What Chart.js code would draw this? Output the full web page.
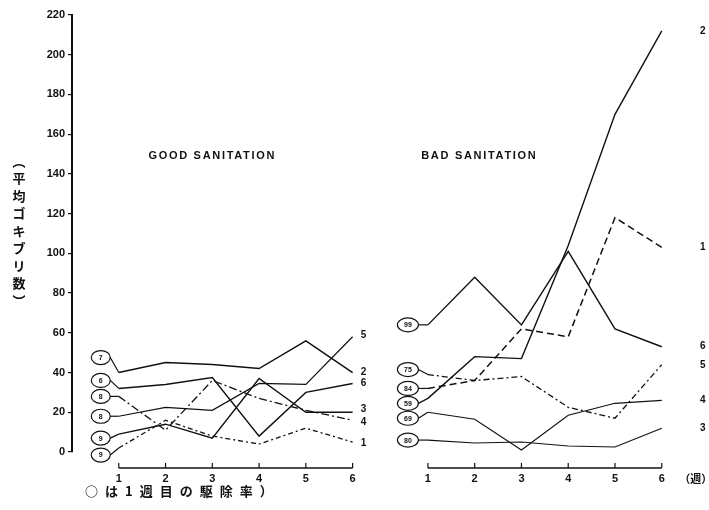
<!DOCTYPE html>
<html lang="ja">
<head>
<meta charset="utf-8">
<title>平均ゴキブリ数</title>
<script src="https://cdn.jsdelivr.net/npm/chart.js"></script>
<style>
  html, body { margin: 0; padding: 0; background: #fff; }
  #wrap { position: relative; width: 709px; height: 510px; }
</style>
</head>
<body>
<div id="wrap"><canvas id="roachChart" width="709" height="510"></canvas></div>

<script>
// weeks after treatment (x axis of each panel)
const weeks = [1, 2, 3, 4, 5, 6];
const weekLabels = ['1', '2', '3', '4', '5', '6'];

// GOOD SANITATION - mean number of cockroaches, line names 1..6
const good1 = [2, 16, 8, 4, 12, 5];
const good2 = [40, 45, 44, 42, 56, 40];
const good3 = [9, 14, 7, 37, 20, 20];
const good4 = [28, 11, 36, 27, 21, 16];
const good5 = [18, 22.5, 21, 34.5, 34, 58];
const good6 = [32, 34, 37.5, 8, 30, 34.5];
// circled numbers = kill rate in week 1
const goodTags = ['9', '7', '9', '8', '8', '6'];

// BAD SANITATION
const bad1 = [32, 36, 62, 58, 118, 103];
const bad2 = [27, 48, 47, 104, 170, 212];
const bad3 = [6, 4.5, 5, 3, 2.5, 12];
const bad4 = [20, 16.5, 1, 18.5, 24.5, 26];
const bad5 = [39, 36, 38, 22.5, 17, 44];
const bad6 = [64, 88, 64, 101, 62, 53];
const badTags = ['84', '59', '80', '69', '75', '99'];

const lineNames = ['1', '2', '3', '4', '5', '6'];

// ---- layout / style (not data) ----
const RIGHT_SHIFT = 6.61;            // where the second panel starts, in weeks
const INK = '#111';
const panels = [
  { title: 'GOOD SANITATION', shift: 0, series: [good1, good2, good3, good4, good5, good6], tags: goodTags,
    titleAt: [3.0, 149], tagDx: -18, tagRx: 9.5, endDx: 11,
    tagNudge: [7, -15, 4, 0, 0, -8],
    endNudge: [1, 0, -3, 2, -2, 0],
    dash: [[5, 3, 2, 3], [], [], [8, 3, 2, 3], [], []],
    width: [1.3, 1.5, 1.4, 1.3, 1.2, 1.4] },
  { title: 'BAD SANITATION', shift: RIGHT_SHIFT, series: [bad1, bad2, bad3, bad4, bad5, bad6], tags: badTags,
    titleAt: [2.1, 149], tagDx: -20, tagRx: 10.5, endDx: 41,
    tagNudge: [0, 5, 0, 6, -5, 0],
    endNudge: [0, 0, 0, 0, 1, 0],
    dash: [[7, 4], [], [], [], [6, 3, 2, 3], []],
    width: [1.5, 1.4, 1.1, 1.1, 1.3, 1.4] }
];

const datasets = [];
panels.forEach((p, pi) => {
  p.series.forEach((vals, i) => {
    datasets.push({
      label: p.title + ' ' + lineNames[i],
      data: vals.map((v, k) => ({ x: weeks[k] + p.shift, y: v })),
      borderColor: INK,
      borderWidth: p.width[i],
      borderDash: p.dash[i],
      pointRadius: 0,
      tension: 0,
      fill: false,
      panel: pi, idx: i
    });
  });
});

const boldFont = (size) => 'bold ' + size + 'px "Liberation Sans", Arial, sans-serif';

const decor = {
  id: 'decor',
  afterDraw(chart) {
    const ctx = chart.ctx;
    const xs = chart.scales.x, ys = chart.scales.y;
    ctx.save();
    ctx.strokeStyle = INK;
    ctx.fillStyle = INK;

    panels.forEach((p) => {
      // separate x axis under each panel
      const x0 = xs.getPixelForValue(weeks[0] + p.shift);
      const x1 = xs.getPixelForValue(weeks[weeks.length - 1] + p.shift);
      const ay = ys.bottom + 16;
      ctx.lineWidth = 1.6;
      ctx.beginPath(); ctx.moveTo(x0, ay); ctx.lineTo(x1, ay); ctx.stroke();
      ctx.font = boldFont(11);
      ctx.textAlign = 'center'; ctx.textBaseline = 'middle';
      weeks.forEach((w, k) => {
        const px = xs.getPixelForValue(w + p.shift);
        ctx.lineWidth = 1.2;
        ctx.beginPath(); ctx.moveTo(px, ay); ctx.lineTo(px, ay - 5); ctx.stroke();
        ctx.fillText(weekLabels[k], px, ay + 11);
      });

      // panel title
      ctx.font = boldFont(11);
      ctx.letterSpacing = '1.7px';
      ctx.fillText(p.title, xs.getPixelForValue(p.titleAt[0] + p.shift), ys.getPixelForValue(p.titleAt[1]));
      ctx.letterSpacing = '0px';
    });

    // circled tags at the start, line names at the end
    chart.data.datasets.forEach((ds, di) => {
      const p = panels[ds.panel];
      const pts = chart.getDatasetMeta(di).data;
      const first = pts[0], last = pts[pts.length - 1];
      const cx = first.x + p.tagDx, cy = first.y + p.tagNudge[ds.idx];
      ctx.lineWidth = 1.2;
      ctx.beginPath(); ctx.ellipse(cx, cy, p.tagRx, 7, 0, 0, Math.PI * 2); ctx.stroke();
      ctx.beginPath(); ctx.moveTo(cx + p.tagRx, cy); ctx.lineTo(first.x, first.y); ctx.stroke();
      ctx.font = boldFont(7);
      ctx.textAlign = 'center'; ctx.textBaseline = 'middle';
      ctx.fillText(p.tags[ds.idx], cx, cy + 0.5);

      ctx.font = boldFont(10);
      ctx.fillText(lineNames[ds.idx], last.x + p.endDx, last.y + p.endNudge[ds.idx]);
    });

    // week unit
    ctx.font = 'bold 11px "Noto Sans CJK JP", sans-serif';
    ctx.textAlign = 'center';
    ctx.fillText('（週）', xs.getPixelForValue(weeks[5] + RIGHT_SHIFT) + 34, ys.bottom + 27);

    // vertical y title
    const yTitle = ['︵', '平', '均', 'ゴ', 'キ', 'ブ', 'リ', '数', '︶'];
    ctx.font = 'bold 13px "Noto Sans CJK JP", sans-serif';
    yTitle.forEach((ch, k) => ctx.fillText(ch, 19, 161 + k * 17.5));

    // footnote
    ctx.font = 'bold 13px "Noto Sans CJK JP", sans-serif';
    ctx.textAlign = 'left';
    ctx.letterSpacing = '7px';
    ctx.fillText('○は1週目の駆除率）', 85, 491);
    ctx.restore();
  }
};

new Chart(document.getElementById('roachChart'), {
  type: 'line',
  data: { datasets },
  options: {
    responsive: false,
    animation: false,
    devicePixelRatio: 1,
    layout: { padding: { top: 15, right: 29, bottom: 58, left: 0 } },
    plugins: { legend: { display: false }, tooltip: { enabled: false } },
    scales: {
      x: { type: 'linear', display: false, min: 0, max: 13 },
      y: {
        min: 0, max: 220,
        afterFit: (s) => { s.width = 72; },
        ticks: { stepSize: 20, color: INK, padding: 3, font: { family: '"Liberation Sans", Arial, sans-serif', size: 11, weight: 'bold' } },
        grid: { drawOnChartArea: false, tickLength: 4, color: INK, lineWidth: 1.2 },
        border: { color: INK, width: 2 }
      }
    }
  },
  plugins: [decor]
});
</script>
</body>
</html>
